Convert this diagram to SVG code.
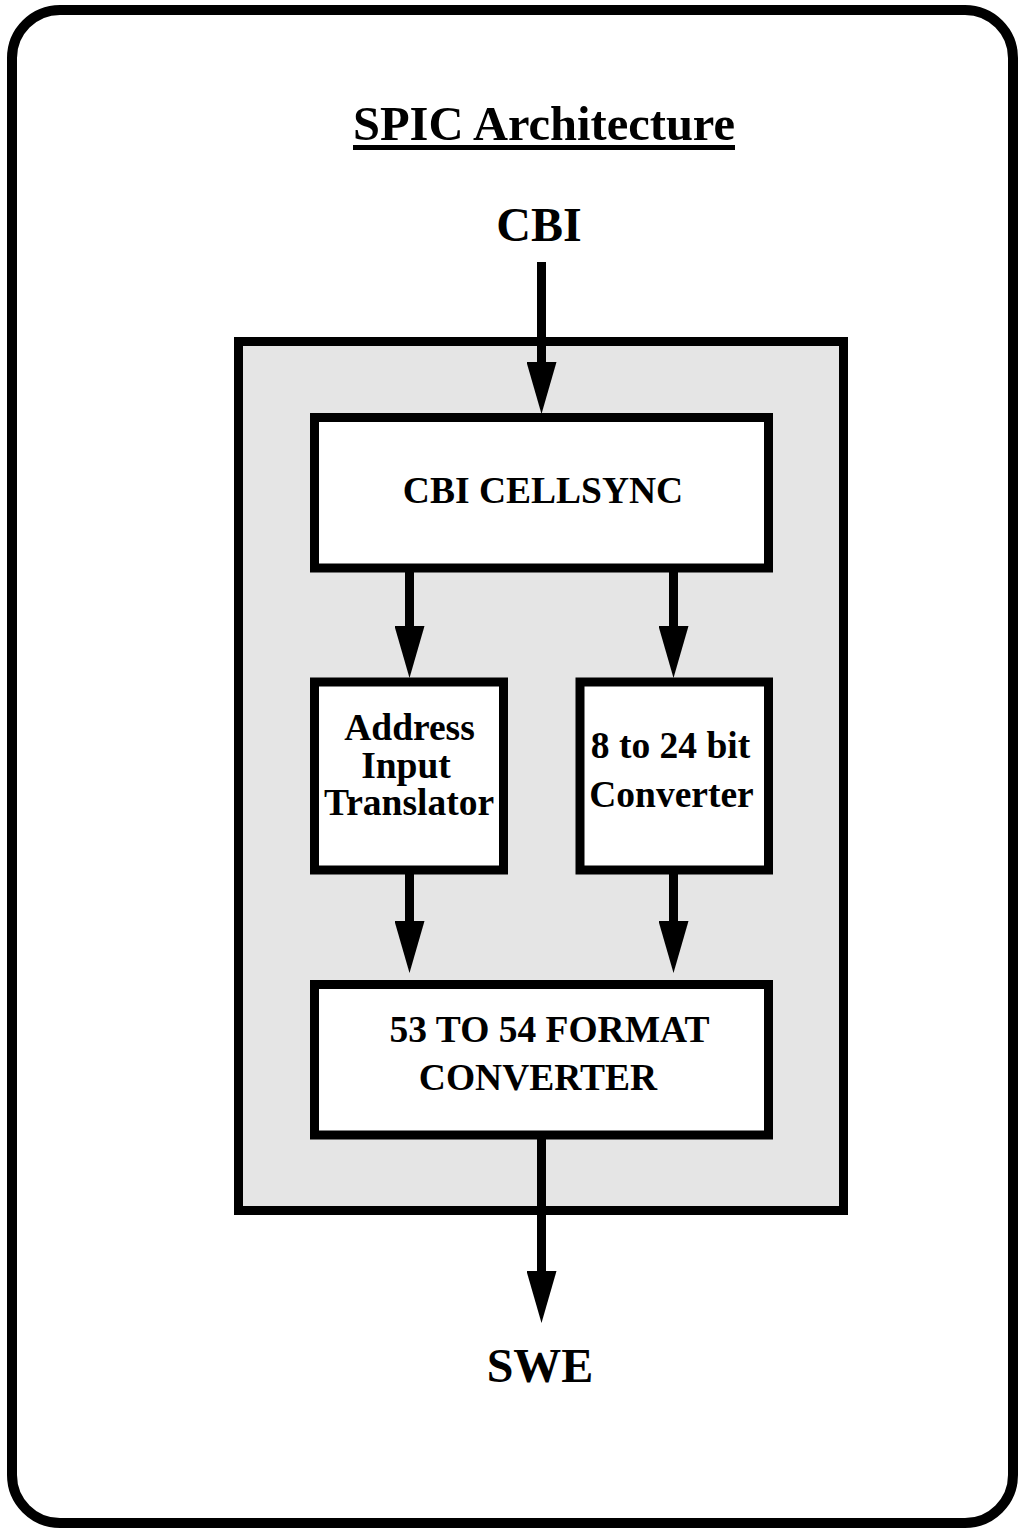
<svg xmlns="http://www.w3.org/2000/svg" width="1019" height="1530" viewBox="0 0 1019 1530">
  <style>
    .t { font-family: "Liberation Serif", "Times New Roman", serif; font-weight: bold; fill: #000; }
    .big { font-size: 48px; }
    .ttl { font-size: 48.5px; }
    .lbl { font-size: 37.5px; }
    .box { fill: #fff; stroke: #000; stroke-width: 9; }
    .conn { stroke: #000; stroke-width: 9; fill: none; marker-end: url(#head); }
  </style>
  <defs>
    <marker id="head" markerUnits="userSpaceOnUse" markerWidth="52" markerHeight="30" refX="0" refY="15" orient="auto">
      <path d="M0,0 L52,15 L0,30 Z" fill="#000"/>
    </marker>
  </defs>

  <g id="frame">
    <rect x="12" y="10" width="1001" height="1513" rx="48" ry="48" fill="#fff" stroke="#000" stroke-width="10"/>
  </g>

  <g id="title">
    <text class="t ttl" x="544" y="140" text-anchor="middle">SPIC Architecture</text>
    <rect x="353" y="145" width="382" height="5" fill="#000"/>
  </g>

  <g id="cbi">
    <text class="t big" x="539" y="241" text-anchor="middle">CBI</text>
  </g>

  <g id="spic">
    <rect x="238.5" y="341.5" width="605" height="869" fill="#e5e5e5" stroke="#000" stroke-width="9"/>
  </g>

  <g id="cellsync">
    <rect class="box" x="314.5" y="417.5" width="454" height="150.5"/>
    <text class="t lbl" x="543" y="503" text-anchor="middle">CBI CELLSYNC</text>
  </g>

  <g id="address">
    <rect class="box" x="314.5" y="682" width="189" height="188"/>
    <text class="t lbl" x="409.5" y="740" text-anchor="middle">Address</text>
    <text class="t lbl" x="406" y="778" text-anchor="middle">Input</text>
    <text class="t lbl" x="409" y="815" text-anchor="middle">Translator</text>
  </g>

  <g id="bitconv">
    <rect class="box" x="580" y="682" width="188.5" height="188"/>
    <text class="t lbl" x="670.5" y="758" text-anchor="middle">8 to 24 bit</text>
    <text class="t lbl" x="671.5" y="807" text-anchor="middle">Converter</text>
  </g>

  <g id="format">
    <rect class="box" x="314.5" y="984.5" width="454" height="150.5"/>
    <text class="t lbl" x="549.5" y="1042" text-anchor="middle">53 TO 54 FORMAT</text>
    <text class="t lbl" x="538" y="1090" text-anchor="middle">CONVERTER</text>
  </g>

  <g id="swe">
    <text class="t big" x="540" y="1382" text-anchor="middle">SWE</text>
  </g>

  <g id="connectors">
    <line class="conn" x1="541.5" y1="262" x2="541.5" y2="362"/>
    <line class="conn" x1="409.5" y1="572" x2="409.5" y2="626"/>
    <line class="conn" x1="673.5" y1="572" x2="673.5" y2="626"/>
    <line class="conn" x1="409.5" y1="874" x2="409.5" y2="921"/>
    <line class="conn" x1="673.5" y1="874" x2="673.5" y2="921"/>
    <line class="conn" x1="541.5" y1="1139" x2="541.5" y2="1271"/>
  </g>
</svg>
